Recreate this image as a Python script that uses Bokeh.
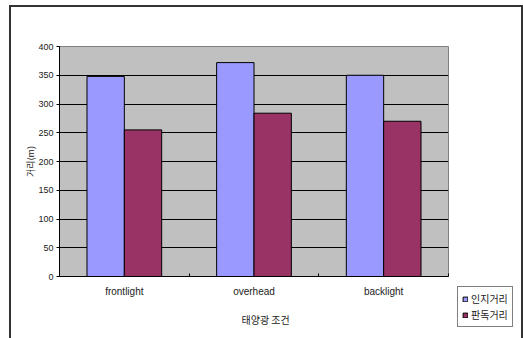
from bokeh.plotting import figure
from bokeh.layouts import row
from bokeh.models import ColumnDataSource, FixedTicker, Legend, LegendItem, Title
from bokeh.embed import file_html
from bokeh.resources import INLINE

# 태양광 조건별 인지거리 / 판독거리 (m)
conditions = ["frontlight", "overhead", "backlight"]
recognition = [348, 372, 350]   # 인지거리
reading = [255, 284, 270]       # 판독거리
series_names = ["인지거리", "판독거리"]
series_colors = ["#9999FF", "#993366"]
y_ticks = [0, 50, 100, 150, 200, 250, 300, 350, 400]

LATIN = "Liberation Sans"
KOREAN = "Noto Sans CJK KR"
TEXT = "#222222"
BAR_W = 0.288

centers = [i + 0.5 for i in range(len(conditions))]

# ---- main chart -----------------------------------------------------------
p = figure(width=442, height=331, x_range=(0, len(conditions)), y_range=(0, 400),
           output_backend="svg", toolbar_location=None,
           min_border_left=48, min_border_right=5,
           min_border_top=39, min_border_bottom=62,
           background_fill_color="#C0C0C0", border_fill_color="white",
           outline_line_color="#808080", outline_line_width=1)
p.frame_align = False

for k, vals in enumerate([recognition, reading]):
    xs = [c + (k - 0.5) * BAR_W for c in centers]
    src = ColumnDataSource(dict(x=xs, top=vals))
    p.vbar(x="x", top="top", bottom=0, width=BAR_W, source=src,
           fill_color=series_colors[k], line_color="black", line_width=1)

# y axis
p.yaxis.ticker = FixedTicker(ticks=y_ticks)
p.yaxis.axis_line_color = "black"
p.yaxis.major_tick_line_color = "black"
p.yaxis.major_tick_in = 0
p.yaxis.major_tick_out = 3
p.yaxis.minor_tick_line_color = None
p.yaxis.major_label_standoff = 3
p.yaxis.major_label_text_font = LATIN
p.yaxis.major_label_text_font_size = "9px"
p.yaxis.major_label_text_color = TEXT
p.yaxis.axis_label = "거리(m)"
p.yaxis.axis_label_text_font = KOREAN
p.yaxis.axis_label_text_font_size = "9px"
p.yaxis.axis_label_text_font_style = "normal"
p.yaxis.axis_label_text_color = TEXT
p.yaxis.axis_label_standoff = -2

# x axis: labels at category centres, small ticks at category boundaries
p.xaxis.ticker = FixedTicker(ticks=centers,
                             minor_ticks=list(range(len(conditions) + 1)))
p.xaxis.major_label_overrides = {c: name for c, name in zip(centers, conditions)}
p.xaxis.axis_line_color = "black"
p.xaxis.major_tick_line_color = None
p.xaxis.major_tick_in = 0
p.xaxis.major_tick_out = 0
p.xaxis.minor_tick_line_color = "black"
p.xaxis.minor_tick_in = 3
p.xaxis.minor_tick_out = 0
p.xaxis.major_label_standoff = 9
p.xaxis.major_label_text_font = LATIN
p.xaxis.major_label_text_font_size = "10px"
p.xaxis.major_label_text_color = TEXT

# x axis title, set slightly right of the plot centre
p.add_layout(Title(text="태양광 조건", align="left", offset=182, standoff=20,
                   text_font=KOREAN, text_font_size="10px",
                   text_font_style="normal", text_color=TEXT), "below")

# grid
p.xgrid.grid_line_color = None
p.ygrid.ticker = FixedTicker(ticks=y_ticks[1:-1])
p.ygrid.grid_line_color = "black"
p.ygrid.grid_line_width = 1

# ---- legend panel ---------------------------------------------------------
q = figure(width=68, height=331, x_range=(0, 1), y_range=(0, 1),
           output_backend="svg", toolbar_location=None,
           x_axis_type=None, y_axis_type=None,
           min_border_left=0, min_border_right=0,
           min_border_top=0, min_border_bottom=0,
           background_fill_color="white", border_fill_color="white",
           outline_line_color=None)
q.frame_align = False
q.xgrid.visible = False
q.ygrid.visible = False

# legend keys: same styling as the bars, parked outside the visible range
keys = [q.vbar(x=[-10], top=[-9], bottom=[-10], width=1, fill_color=c,
               line_color="black", line_width=1)
        for c in series_colors]

legend = Legend(items=[LegendItem(label=n, renderers=[r])
                       for n, r in zip(series_names, keys)],
                location=(4, 11), orientation="vertical",
                glyph_width=6, glyph_height=6, label_standoff=3,
                padding=4, spacing=1, label_height=12, margin=0,
                border_line_color="black", border_line_width=1,
                background_fill_color="white", background_fill_alpha=1,
                label_text_font=KOREAN, label_text_font_size="10px",
                label_text_color=TEXT)
q.add_layout(legend)

# chart-area frame around both panels
layout = row(p, q, spacing=0, margin=(5, 0, 0, 9),
             styles={"border-top": "2px solid #333333",
                     "border-left": "2px solid #333333",
                     "border-right": "2px solid #333333",
                     "border-bottom": "none"})

open("out.html", "w").write(file_html(layout, INLINE))
